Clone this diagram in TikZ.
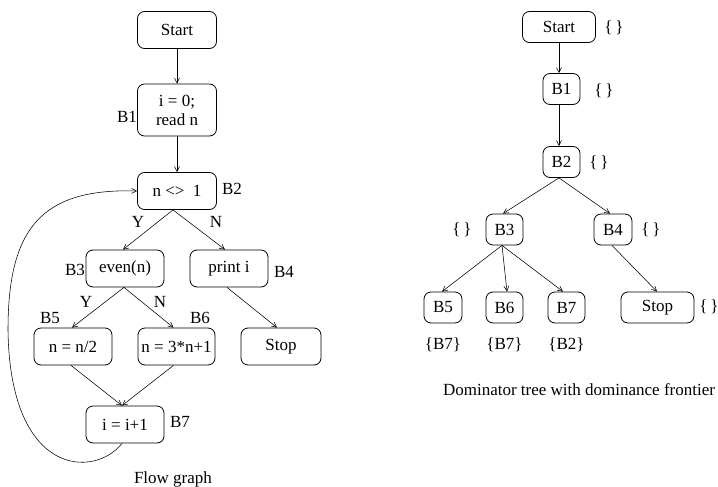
\documentclass[tikz,border=0pt]{standalone}
\usepackage{fontspec}
\setmainfont{Liberation Serif}
\usetikzlibrary{arrows.meta}
\begin{document}
\begin{tikzpicture}[x=1pt,y=-1pt,
  every node/.style={font=\fontsize{17}{19}\selectfont, inner sep=0pt},
  blk/.style={draw, line width=0.8pt, rounded corners=7pt, minimum height=37pt},
  tblk/.style={draw, line width=0.8pt, rounded corners=7pt, minimum height=31pt},
  edge/.style={line width=0.55pt, -{Straight Barb[length=5pt,width=5pt]}},
]
\useasboundingbox (0,0) rectangle (718,487);

% ---- flow graph ----
\node[blk, minimum width=79pt] (fs) at (177,30) {Start};
\node[blk, minimum width=79pt, minimum height=52pt, align=center] (f1) at (177,110) {i = 0;\\read n};
\node[blk, minimum width=79pt] (f2) at (177,191) {n <>~~1};
\node[blk, minimum width=78pt] (f3) at (125,268.5) {even(n)};
\node[blk, minimum width=78pt] (f4) at (229,268.5) {print i\hspace{6pt}};
\node[blk, minimum width=78pt] (f5) at (73,346.5) {n = n/2};
\node[blk, minimum width=77pt] (f6) at (176.5,346.5) {n = 3*n+1};
\node[blk, minimum width=80pt] (fstop) at (281,346.5) {Stop};
\node[blk, minimum width=78pt] (f7) at (125,424.5) {i = i+1};

\node (lb1) at (127,117) {B1};
\node (lb2) at (232,189) {B2};
\node (lb3) at (75,270) {B3};
\node (lb4) at (284,272) {B4};
\node (lb5) at (50,318) {B5};
\node (lb6) at (200,318) {B6};
\node (lb7) at (180,422) {B7};
\node (ly1) at (138,222) {Y};
\node (ln1) at (216,222) {N};
\node (ly2) at (86,302) {Y};
\node (ln2) at (160,302) {N};
\node (cap1) at (173,479) {Flow graph};

\draw[edge] (fs.south) -- (f1.north);
\draw[edge] (f1.south) -- (f2.north);
\draw[edge] ([xshift=-4pt]f2.south) -- ([xshift=-2pt]f3.north);
\draw[edge] ([xshift=-4pt]f2.south) -- ([xshift=-4pt]f4.north);
\draw[edge] ([xshift=-1pt]f3.south) -- ([xshift=-1pt]f5.north);
\draw[edge] ([xshift=-1pt]f3.south) -- ([xshift=-3pt]f6.north);
\draw[edge] ([xshift=-2pt]f4.south) -- ([xshift=-4pt]fstop.north);
\draw[edge] ([xshift=-2pt]f5.south) -- ([xshift=-3pt]f7.north);
\draw[edge] ([xshift=-3pt]f6.south) -- ([xshift=-3pt]f7.north);
\coordinate (loopl) at (8,330);
\draw[line width=0.55pt] ([xshift=-3pt]f7.south) .. controls (95,478) and (10,478) .. (loopl);
\draw[edge] (loopl) .. controls (8,230) and (40,188) .. (f2.west);

% ---- dominator tree ----
\node[tblk, minimum width=73pt] (ts) at (559,27) {Start};
\node[tblk, minimum width=37pt] (t1) at (561.5,89) {B1};
\node[tblk, minimum width=37pt] (t2) at (561.5,162) {B2};
\node[tblk, minimum width=37pt] (t3) at (504.5,229.5) {B3};
\node[tblk, minimum width=38pt] (t4) at (613,229.5) {B4};
\node[tblk, minimum width=38pt] (t5) at (443,307.5) {B5};
\node[tblk, minimum width=37pt] (t6) at (504.5,307.5) {B6};
\node[tblk, minimum width=37pt] (t7) at (566.5,307.5) {B7};
\node[tblk, minimum width=73pt] (tstop) at (657.5,307.5) {Stop};

\node (dfs) at (614,28) {\{\,\}};
\node (df1) at (604,91) {\{\,\}};
\node (df2) at (599,163) {\{\,\}};
\node (df3) at (462,230) {\{\,\}};
\node (df4) at (651,230) {\{\,\}};
\node (dfstop) at (709,307) {\{\,\}};
\node (df5) at (443,345) {\{B7\}};
\node (df6) at (504.5,345) {\{B7\}};
\node (df7) at (566.5,345) {\{B2\}};
\node (cap2) at (579,390) {Dominator tree with dominance frontier};

\draw[edge] (ts.south) -- (ts.south |- t1.north);
\draw[edge] ([xshift=-2.5pt]t1.south) -- ([xshift=-2.5pt]t2.north);
\draw[edge] ([xshift=-2.5pt]t2.south) -- ([xshift=-1.5pt]t3.north);
\draw[edge] ([xshift=-2.5pt]t2.south) -- ([xshift=-3pt]t4.north);
\draw[edge] ([xshift=-2.5pt]t3.south) -- ([xshift=-1pt]t5.north);
\draw[edge] ([xshift=-2.5pt]t3.south) -- ([xshift=2.5pt]t6.north);
\draw[edge] ([xshift=-2.5pt]t3.south) -- ([xshift=-3.5pt]t7.north);
\draw[edge] ([xshift=-1pt]t4.south) -- ([xshift=-0.5pt]tstop.north);
\end{tikzpicture}
\end{document}
